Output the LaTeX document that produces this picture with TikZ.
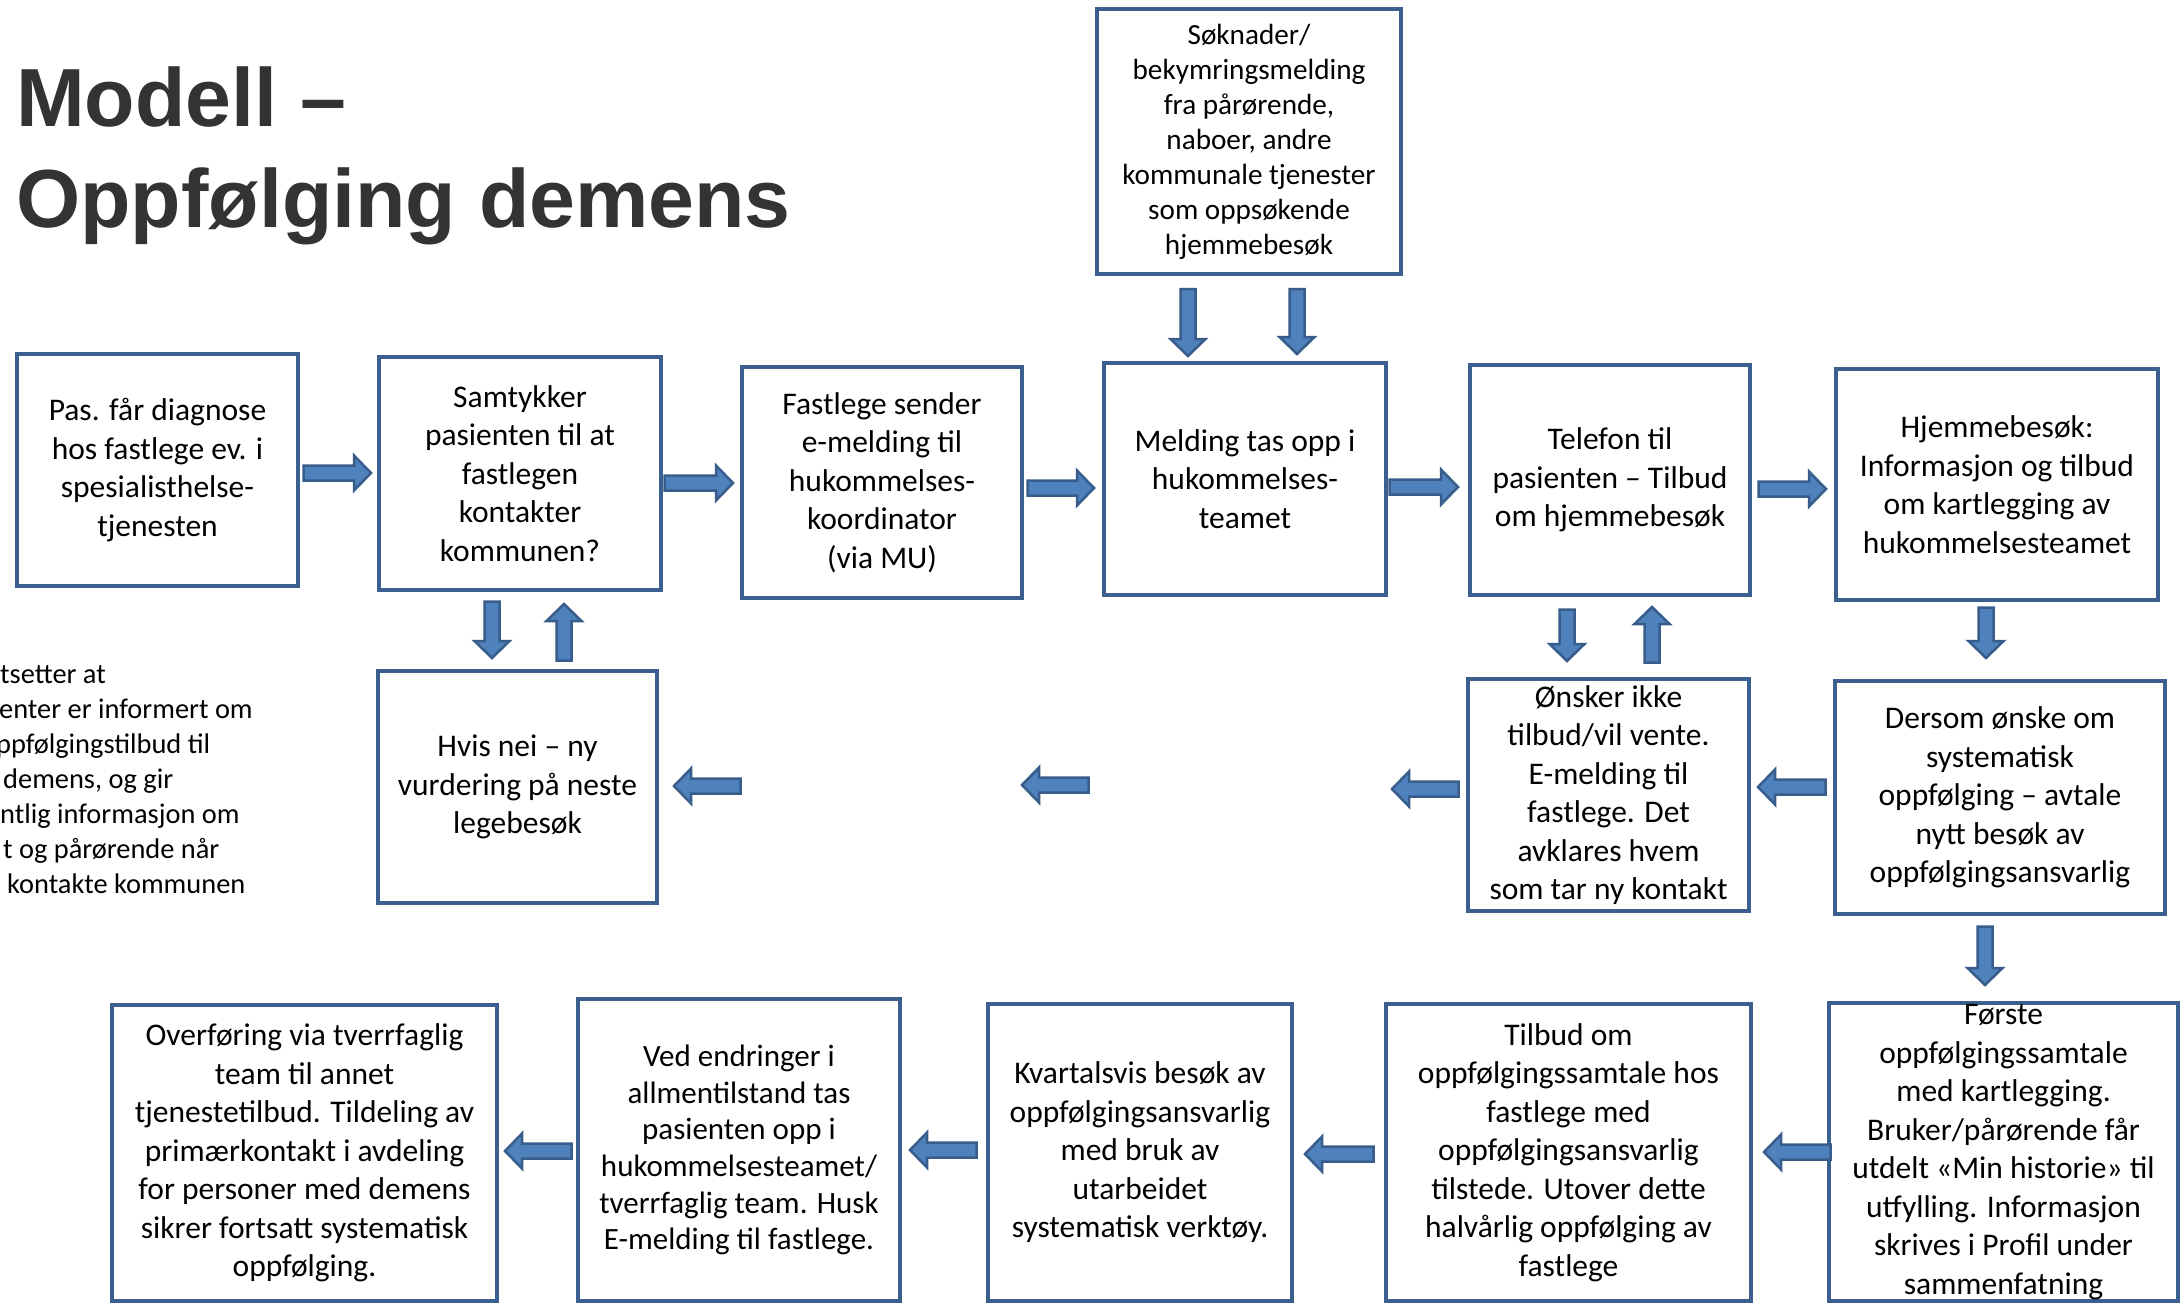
\documentclass[tikz,border=0pt]{standalone}
\usepackage{fontspec}
\setmainfont{Carlito}
\newfontfamily\titlefont{Liberation Sans}
\usetikzlibrary{calc}
\definecolor{boxc}{HTML}{3B5F8E}
\definecolor{arrline}{HTML}{385D8A}
\definecolor{arrfill}{HTML}{4F81BD}
\definecolor{titlec}{HTML}{333333}
\tikzset{
 box/.style={draw=boxc, line width=4.5pt, fill=white, align=center, inner sep=0pt, outer sep=0pt, font=\fontsize{31.5}{38.5}\selectfont},
 blkarrow/.style={draw=arrline, fill=arrfill, line width=2.5pt, line join=miter},
 ttl/.style={anchor=base west, inner sep=0pt, text=titlec, font=\titlefont\bfseries\fontsize{82.5}{100}\selectfont},
 side/.style={anchor=base west, inner sep=0pt, font=\fontsize{28.4}{35}\selectfont},
}
\newcommand\myarr[2]{%
 \path #1 coordinate (aT);
 \path #2 coordinate (aH);
 \path ($(aH)!17pt!(aT)$) coordinate (aB);
 \draw[blkarrow] ($(aT)!7.5pt!90:(aH)$) -- ($(aB)!7.5pt!90:(aH)$) -- ($(aB)!17.5pt!90:(aH)$) -- (aH) -- ($(aB)!17.5pt!-90:(aH)$) -- ($(aB)!7.5pt!-90:(aH)$) -- ($(aT)!7.5pt!-90:(aH)$) -- cycle;}
\begin{document}
\begin{tikzpicture}[x=1pt,y=-1pt]
\useasboundingbox (0,0) rectangle (2182,1303);
\clip (0,0) rectangle (2182,1303);
\fill[white] (0,0) rectangle (2182,1303);

% title
\node[ttl] (t1) at (16,127) {Modell –};
\node[ttl] (t2) at (16,227) {Oppfølging demens};

% side text (cut at the left edge)
\node[side] (s1) at (0,683) {tsetter at};
\node[side] (s2) at (-1,718) {enter er informert om};
\node[side] (s3) at (-19,753) {oppfølgingstilbud til};
\node[side] (s4) at (3,788) {demens, og gir};
\node[side] (s5) at (0,823) {ntlig informasjon om};
\node[side] (s6) at (3,858) {t og pårørende når};
\node[side] (s7) at (7,893) {kontakte kommunen};

% row 1
\node[box, minimum width=281pt, minimum height=232pt] (b1) at (157.5,470) {Pas. får diagnose\\hos fastlege ev. i\\spesialisthelse-\\tjenesten};
\node[box, minimum width=282pt, minimum height=233pt] (b2) at (520,473.5) {Samtykker\\pasienten til at\\fastlegen\\kontakter\\kommunen?};
\node[box, minimum width=280pt, minimum height=231pt] (b3) at (882,482.5) {Fastlege sender\\e-melding til\\hukommelses-\\koordinator\\(via MU)};
\node[box, minimum width=282pt, minimum height=232pt] (b4) at (1245,479) {Melding tas opp i\\hukommelses-\\teamet};
\node[box, minimum width=280pt, minimum height=230pt] (b5) at (1610,480) {Telefon til\\pasienten – Tilbud\\om hjemmebesøk};
\node[box, minimum width=322pt, minimum height=231pt] (b6) at (1997,484.5) {Hjemmebesøk:\\Informasjon og tilbud\\om kartlegging av\\hukommelsesteamet};
\node[box, minimum width=304pt, minimum height=265pt, font=\fontsize{29.2}{35}\selectfont] (tp) at (1249,141.5) {Søknader/\\bekymringsmelding\\fra pårørende,\\naboer, andre\\kommunale tjenester\\som oppsøkende\\hjemmebesøk};

% row 2
\node[box, minimum width=279pt, minimum height=232pt] (hv) at (517.5,787) {Hvis nei – ny\\vurdering på neste\\legebesøk};
\node[box, minimum width=281pt, minimum height=232pt] (on) at (1608.5,795) {Ønsker ikke\\tilbud/vil vente.\\E-melding til\\fastlege. Det\\avklares hvem\\som tar ny kontakt};
\node[box, minimum width=330pt, minimum height=233pt] (de) at (2000,797.5) {Dersom ønske om\\systematisk\\oppfølging – avtale\\nytt besøk av\\oppfølgingsansvarlig};

% row 3
\node[box, minimum width=385pt, minimum height=296pt] (r1) at (304.5,1153) {Overføring via tverrfaglig\\team til annet\\tjenestetilbud. Tildeling av\\primærkontakt i avdeling\\for personer med demens\\sikrer fortsatt systematisk\\oppfølging.};
\node[box, minimum width=322pt, minimum height=302pt, font=\fontsize{31}{36.7}\selectfont] (r2) at (739,1150) {Ved endringer i\\allmentilstand tas\\pasienten opp i\\hukommelsesteamet/\\tverrfaglig team. Husk\\E-melding til fastlege.};
\node[box, minimum width=304pt, minimum height=297pt] (r3) at (1140,1152.5) {Kvartalsvis besøk av\\oppfølgingsansvarlig\\med bruk av\\utarbeidet\\systematisk verktøy.};
\node[box, minimum width=365pt, minimum height=297pt] (r4) at (1568.5,1152.5) {Tilbud om\\oppfølgingssamtale hos\\fastlege med\\oppfølgingsansvarlig\\tilstede. Utover dette\\halvårlig oppfølging av\\fastlege};
\node[box, minimum width=349pt, minimum height=298pt] (r5) at (2003.5,1152) {Første\\oppfølgingssamtale\\med kartlegging.\\Bruker/pårørende får\\utdelt «Min historie» til\\utfylling. Informasjon\\skrives i Profil under\\sammenfatning};

% free arrow ends
\coordinate (f1) at (1392,789);
\coordinate (f2) at (1088.5,785);
\coordinate (f3) at (1022,785);
\coordinate (f4) at (740.5,786);

% row 1 arrows
\myarr{(b1.east) ++(5.5,3)}{(b2.west) ++(-8,-0.5)}
\myarr{(b2.east) ++(3.5,9.5)}{(b3.west) ++(-9,0.5)}
\myarr{(b3.east) ++(5.5,5.5)}{(b4.west) ++(-10,9)}
\myarr{(b4.east) ++(3.5,8)}{(b5.west) ++(-12,7)}
\myarr{(b5.east) ++(8.5,9)}{(b6.west) ++(-10,4.5)}
% from top box
\myarr{(tp.south) ++(-61,15)}{(b4.north) ++(-57,-7)}
\myarr{(tp.south) ++(48,15)}{(b4.north) ++(52,-9)}
% b2 <-> hv
\myarr{(b2.south) ++(-28,11.5)}{(hv.north) ++(-25.5,-13)}
\myarr{(hv.north) ++(46.5,-10.5)}{(b2.south) ++(44,14)}
% b5 <-> on
\myarr{(b5.south) ++(-43,14.5)}{(on.north) ++(-41.5,-18)}
\myarr{(on.north) ++(43.5,-16.5)}{(b5.south) ++(42,12)}
% right column down
\myarr{(b6.south) ++(-11,7.5)}{(de.north) ++(-14,-23)}
\myarr{(de.south) ++(-15,12.5)}{(r5.north) ++(-18.5,-18)}
% row 2 left arrows
\myarr{(de.west) ++(-9.5,-10.5)}{(on.east) ++(9,-8)}
\myarr{(on.west) ++(-9.5,-6)}{(f1)}
\myarr{(f2)}{(f3)}
\myarr{(f4)}{(hv.east) ++(17,-1)}
% row 3 left arrows
\myarr{(r5.west) ++(1.5,0)}{(r4.east) ++(13,-0.5)}
\myarr{(r4.west) ++(-12.5,1.5)}{(r3.east) ++(13,1.5)}
\myarr{(r3.west) ++(-11.5,-2.5)}{(r2.east) ++(10,0)}
\myarr{(r2.west) ++(-6.5,1)}{(r1.east) ++(8,-2)}
\end{tikzpicture}
\end{document}
